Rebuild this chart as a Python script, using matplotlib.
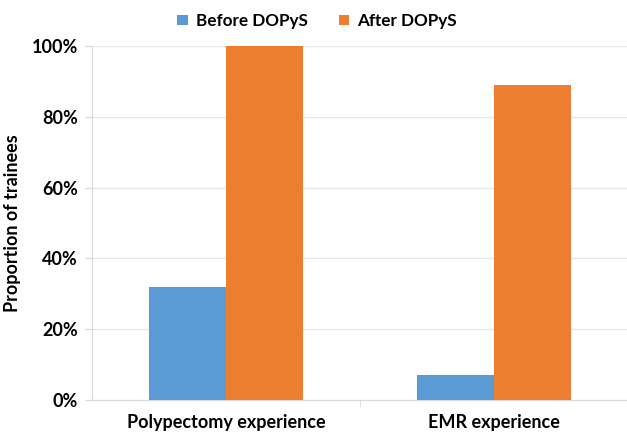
import matplotlib.pyplot as plt
import numpy as np
from matplotlib.ticker import PercentFormatter

categories = ['Polypectomy experience', 'EMR experience']
before = [0.32, 0.07]
after = [1.00, 0.89]
series_names = ['Before DOPyS', 'After DOPyS']

plt.rcParams['font.family'] = ['Lato', 'DejaVu Sans']
plt.rcParams['font.weight'] = 'bold'

fig = plt.figure(figsize=(6.27, 4.37), dpi=100)
ax = fig.add_axes([0.1467, 0.0847, 0.855, 0.81])

ind = np.arange(len(categories))
width = 0.287
b1 = ax.bar(ind - width/2, before, width, color='#5B9BD5', zorder=3)
b2 = ax.bar(ind + width/2, after, width, color='#ED7D31', zorder=3)

ax.set_xlim(-0.5, 1.5)
ax.set_ylim(0, 1.0)
ax.set_yticks(np.arange(0, 1.01, 0.2))
ax.yaxis.set_major_formatter(PercentFormatter(1.0, decimals=0))
ax.grid(axis='y', color='#e8e8e8', linewidth=1, zorder=0)

ax.set_xticks(ind)
ax.set_xticklabels(categories, fontsize=13, fontweight='bold')
ax.set_xticks([0.5, 1.5], minor=True)
ax.tick_params(axis='x', which='major', length=0, pad=10)
ax.tick_params(axis='x', which='minor', length=5, color='#d9d9d9')
ax.tick_params(axis='y', length=5, color='#d9d9d9', labelsize=13, pad=5)
for lab in ax.get_yticklabels():
    lab.set_fontweight('bold')

for s in ['top', 'right']:
    ax.spines[s].set_visible(False)
for s in ['left', 'bottom']:
    ax.spines[s].set_color('#d9d9d9')

ax.set_ylabel('Proportion of trainees', fontsize=13, fontweight='bold', labelpad=8)

fig.legend((b1[0], b2[0]), series_names, loc='center', bbox_to_anchor=(0.506, 0.952),
           ncol=2, frameon=False, handlelength=0.6, handleheight=0.6,
           columnspacing=1.8, handletextpad=0.5, prop={'weight': 'bold', 'size': 12.3})

fig.savefig('out.png', dpi=100)
